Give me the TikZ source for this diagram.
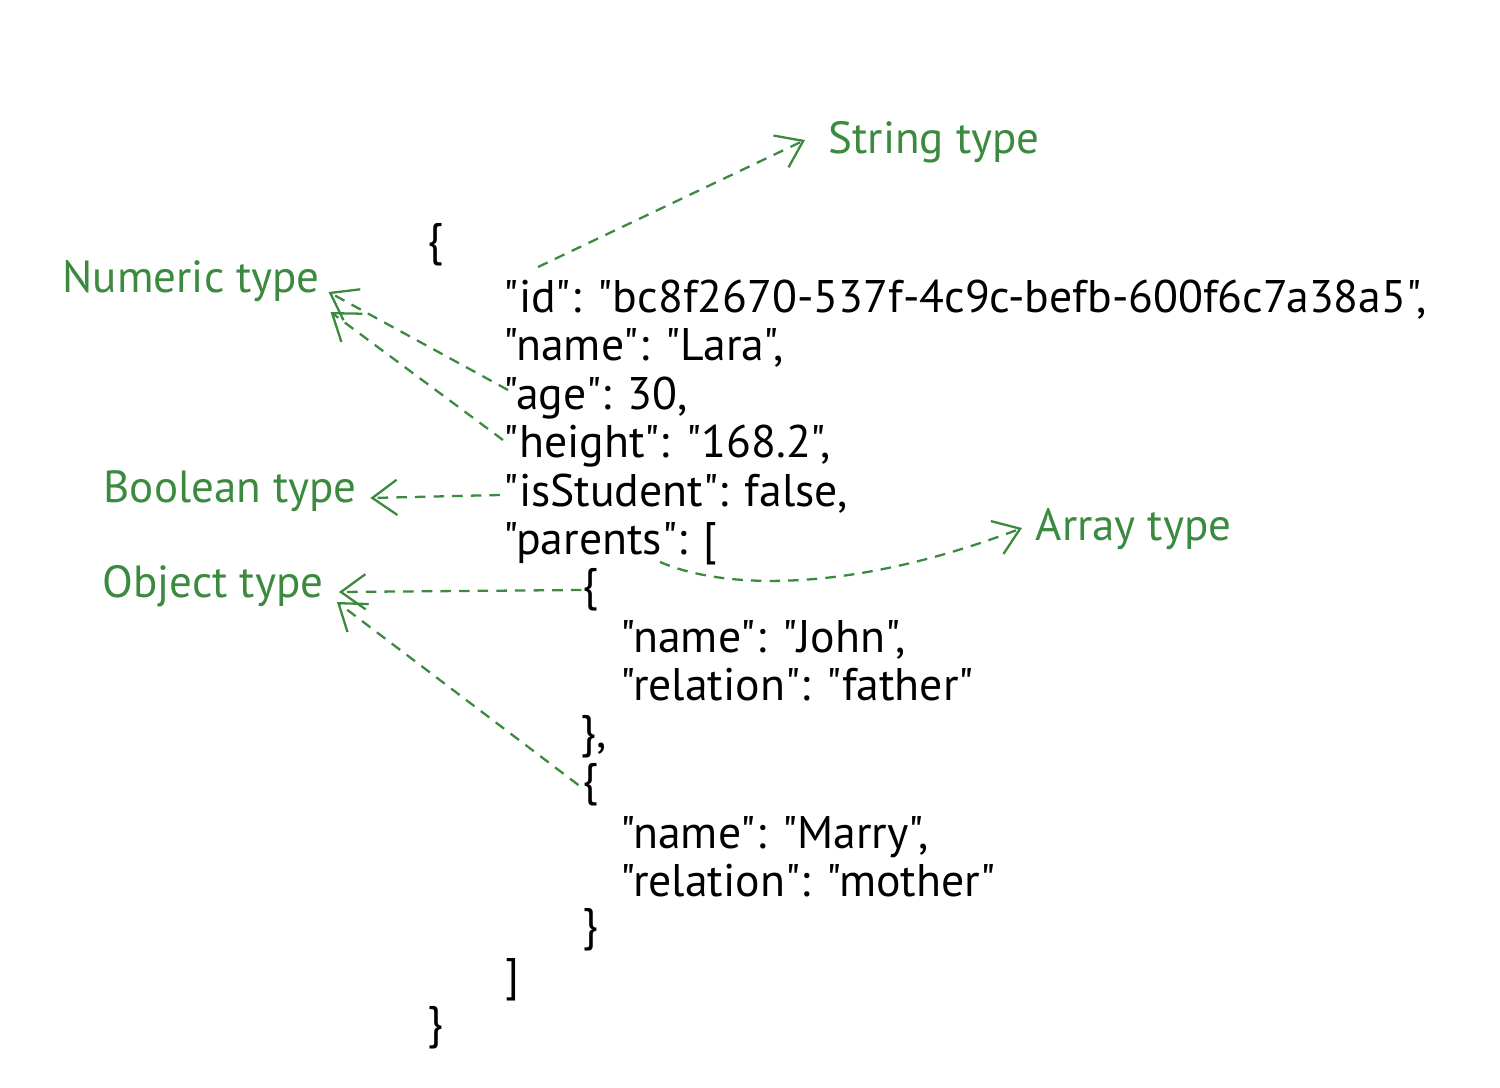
\documentclass[tikz,border=0pt]{standalone}
\usepackage{fontspec}
\setmainfont{PT Sans}[Ligatures=TeXOff]
\usetikzlibrary{arrows.meta}
\definecolor{lblgreen}{HTML}{3B8A3F}
\begin{document}
\begin{tikzpicture}[x=0.01cm,y=-0.01cm,
  code/.style={anchor=base west, inner sep=0pt, font=\fontsize{13}{15}\selectfont},
  brace/.style={anchor=center, inner sep=0pt, font=\fontsize{13}{15}\selectfont},
  lbl/.style={anchor=base west, inner sep=0pt, text=lblgreen, font=\fontsize{12.8}{15}\selectfont},
  conn/.style={draw=lblgreen, line width=0.65pt, dash pattern=on 3pt off 2.3pt,
    -{Straight Barb[length=7pt,width=10pt,line width=0.65pt]}}]
\useasboundingbox (0,0) rectangle (1500,1088);

% JSON text
\node[brace] (ob) at (435,245) {\{};
\node[code] (id) at (503,312) {"id": "bc8f2670-537f-4c9c-befb-600f6c7a38a5",};
\node[code] (nm) at (503,360) {"name": "Lara",};
\node[code] (age) at (503,409) {"age": 30,};
\node[code] (ht) at (503,457) {"height": "168.2",};
\node[code] (stu) at (503,506) {"isStudent": false,};
\node[code] (par) at (503,554) {"parents": [};
\node[brace] (o1) at (590,590) {\{};
\node[code] (n1) at (620,652) {"name": "John",};
\node[code] (r1) at (620,700) {"relation": "father"};
\node[brace] (c1) at (594,737) {\},};
\node[brace] (o2) at (590,785) {\{};
\node[code] (n2) at (620,848) {"name": "Marry",};
\node[code] (r2) at (620,896) {"relation": "mother"};
\node[brace] (c2) at (590,930) {\}};
\node[brace] (cb) at (512,980) {]};
\node[brace] (cl) at (435,1028) {\}};

% labels
\node[lbl] (str) at (828,153) {String type};
\node[lbl] (num) at (62,292) {Numeric type};
\node[lbl] (bool) at (103,502) {Boolean type};
\node[lbl] (arr) at (1035,540) {Array type};
\node[lbl] (obj) at (102,597) {Object type};

% connectors
\draw[conn] ([shift={(35,-45)}]id.base west) -- ([shift={(-23,-13)}]str.base west);
\draw[conn] ([shift={(5,-19)}]age.base west) -- ([shift={(8,0)}]num.base east);
\draw[conn] ([shift={(0,-17)}]ht.base west) -- ([shift={(10,20)}]num.base east);
\draw[conn] ([shift={(-3,-11)}]stu.base west) -- ([shift={(13,-4)}]bool.base east);
\draw[conn] ([shift={(157,8)}]par.base west) .. controls +(70,30) and +(-162,62) .. ([shift={(-13,-12)}]arr.base west);
\draw[conn] (o1.west) -- ([shift={(15,-5)}]obj.base east);
\draw[conn] ([shift={(-3,0)}]o2.west) -- ([shift={(13,5)}]obj.base east);
\end{tikzpicture}
\end{document}
